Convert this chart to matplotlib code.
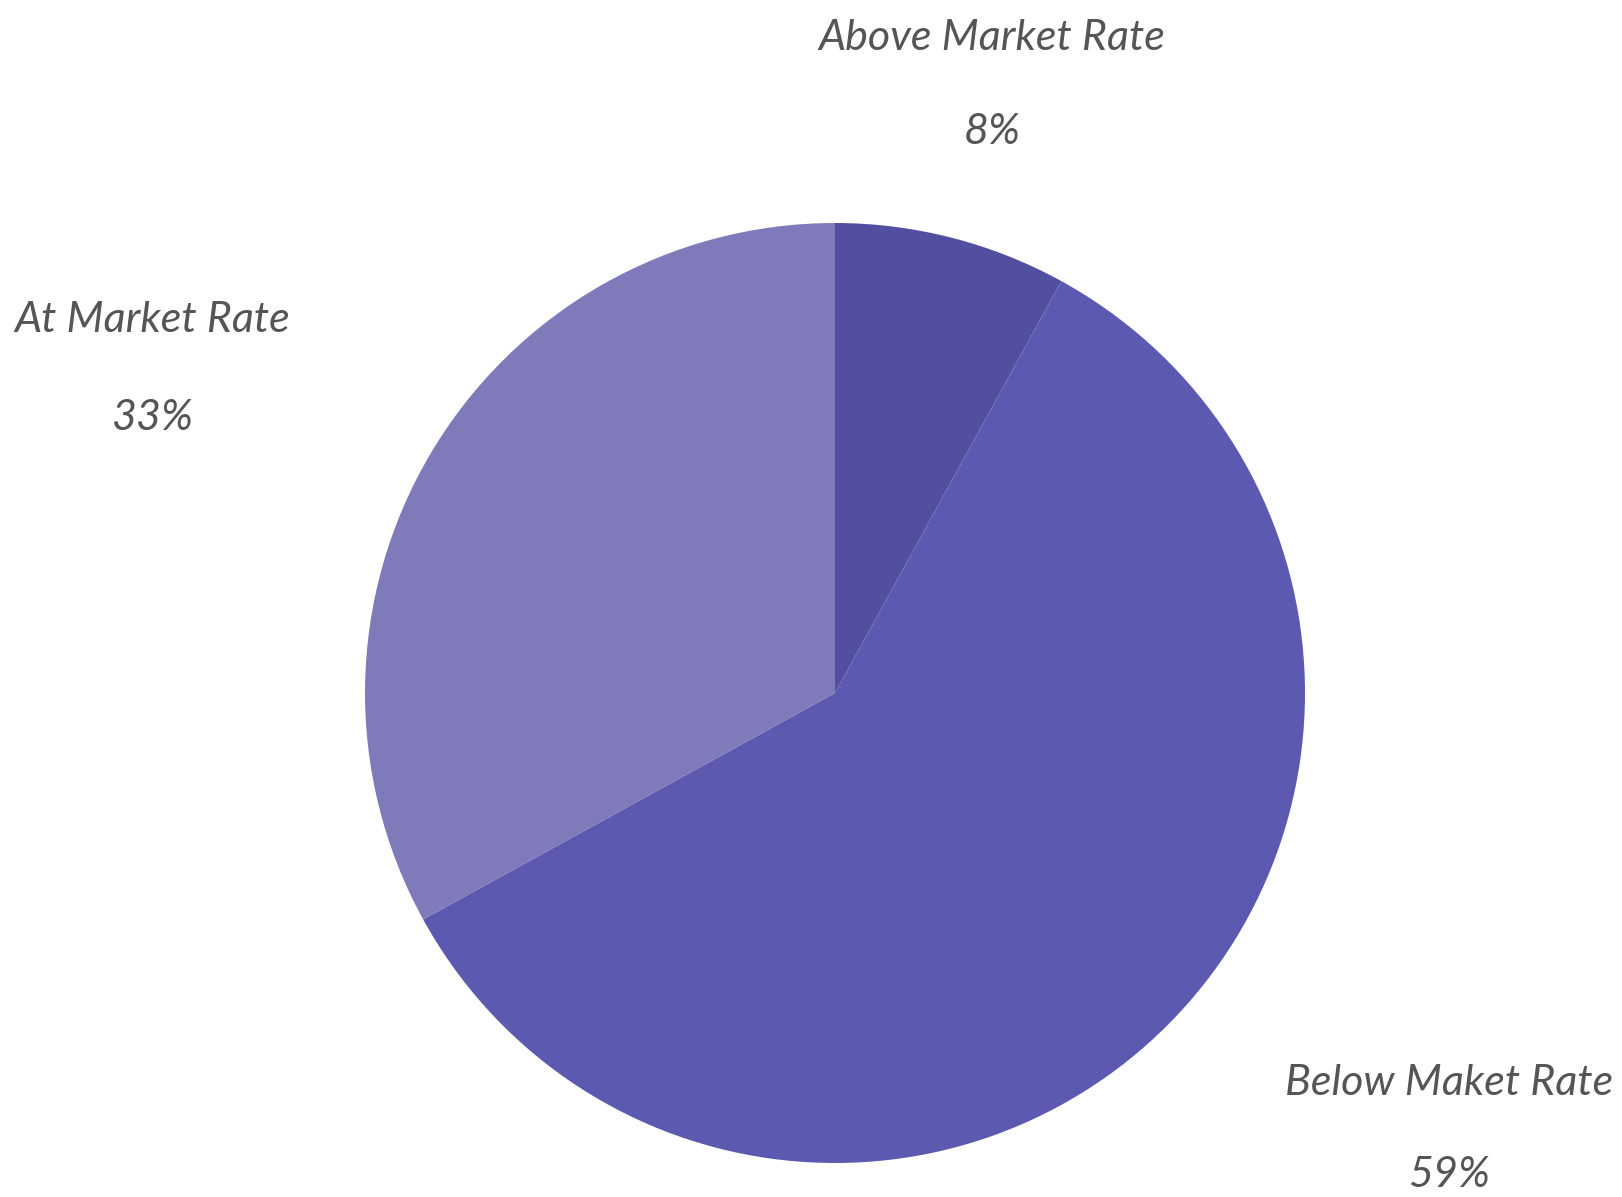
import matplotlib
matplotlib.use("Agg")
import matplotlib.pyplot as plt

categories = ["Above Market Rate", "Below Maket Rate", "At Market Rate"]
values = [8, 59, 33]
colors = ["#524FA0", "#5C59B1", "#7F7BBA"]

W, H = 1622, 1197
fig = plt.figure(figsize=(W / 100, H / 100), dpi=100)
ax = fig.add_axes([0, 0, 1, 1])

ax.pie(values, colors=colors, startangle=90, counterclock=False,
       center=(835, H - 693), radius=470, frame=True,
       wedgeprops=dict(linewidth=0))
ax.set_xlim(0, W)
ax.set_ylim(0, H)
ax.set_aspect("equal")
ax.axis("off")

label_pos = [(992, 38, 132), (1449, 1083, 1175), (152, 320, 418)]
txt = dict(color="#555555", fontfamily="Lato", fontstyle="italic",
           fontweight="normal", fontsize=31, ha="center", va="center")
for cat, v, (x, y1, y2) in zip(categories, values, label_pos):
    ax.text(x, H - y1, cat, **txt)
    ax.text(x, H - y2, f"{v}%", **txt)

fig.savefig("out.png", dpi=100)
